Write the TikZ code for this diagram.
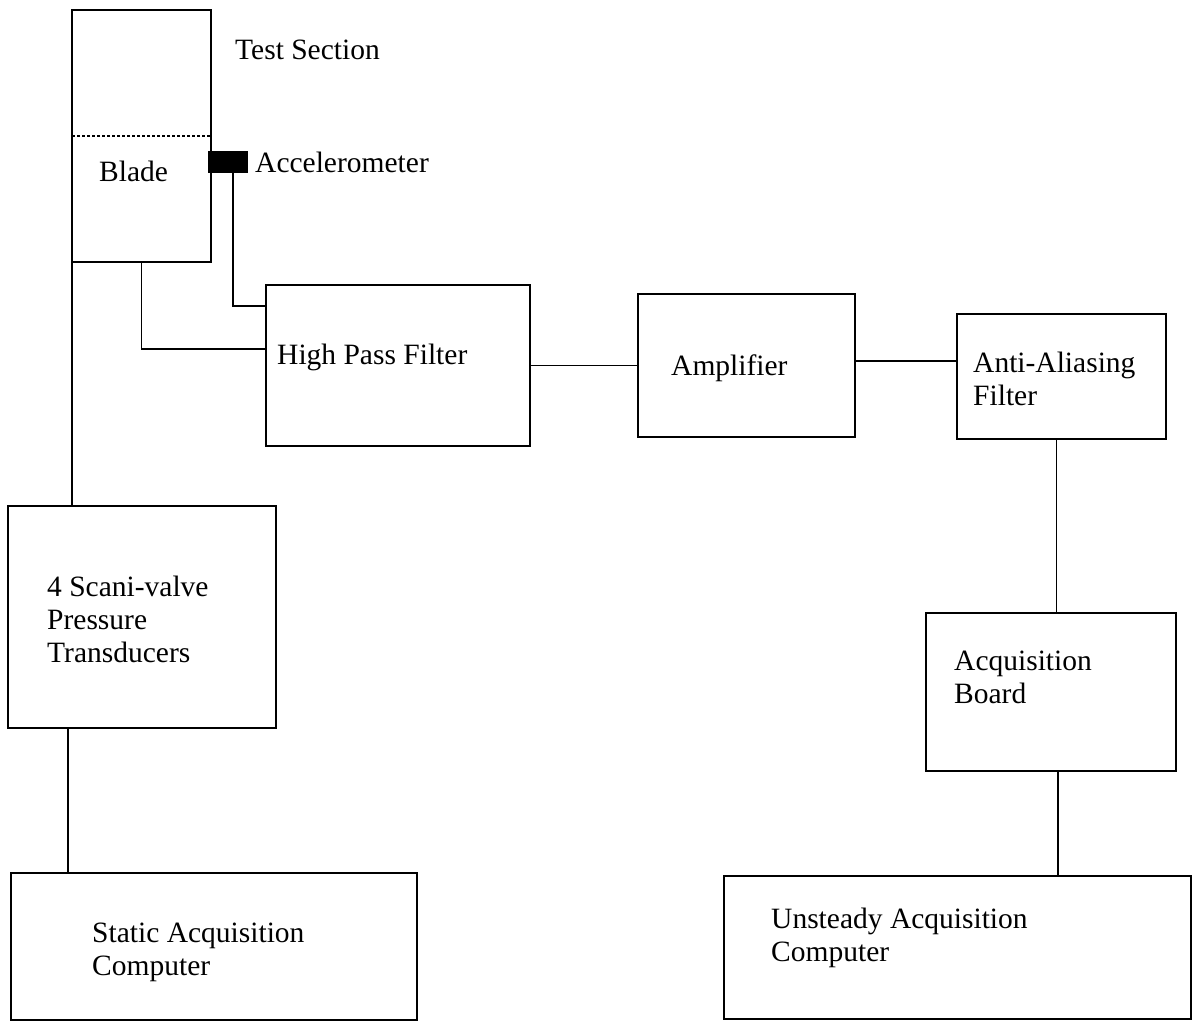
\documentclass[tikz,border=0pt]{standalone}
\usepackage{fontspec}
\setmainfont{Liberation Serif}
\usetikzlibrary{calc}

\tikzset{
  box/.style={draw, line width=1.8pt, inner sep=0pt, outer sep=0pt},
  wire/.style={line width=1.3pt},
  txt/.style={anchor=base west, inner sep=0pt, align=left,
    font=\fontsize{29.5}{33}\selectfont},
}

\begin{document}
\begin{tikzpicture}[x=1pt,y=-1pt]
  \useasboundingbox (0,0) rectangle (1195,1021);
  % boxes
  \node[box, minimum width=139, minimum height=252] (ts) at (141.5,136) {};
  \node[box, fill=black, minimum width=38, minimum height=20] (acc) at (228,162) {};
  \node[box, minimum width=264, minimum height=161] (hpf) at (398,365.5) {};
  \node[box, minimum width=217, minimum height=143] (amp) at (746.5,365.5) {};
  \node[box, minimum width=209, minimum height=125] (aa) at (1061.5,376.5) {};
  \node[box, minimum width=250, minimum height=158] (board) at (1051,692) {};
  \node[box, minimum width=467, minimum height=143] (ucomp) at (957.5,947.5) {};
  \node[box, minimum width=268, minimum height=222] (scani) at (142,617) {};
  \node[box, minimum width=406, minimum height=147] (scomp) at (214,946.5) {};
  % texts (base = last line)
  \node[txt] (tstxt) at (235,59) {Test Section};
  \node[txt] (bladetxt) at (99,181) {Blade};
  \node[txt] (acctxt) at (255,172) {Accelerometer};
  \node[txt] (hpftxt) at (277,364) {High Pass Filter};
  \node[txt] (amptxt) at (671,375) {Amplifier};
  \node[txt] (aatxt) at (973,405) {Anti-Aliasing\\Filter};
  \node[txt] (boardtxt) at (954,703) {Acquisition\\Board};
  \node[txt] (ucomptxt) at (771,961) {Unsteady Acquisition\\Computer};
  \node[txt] (scanitxt) at (47,662) {4 Scani-valve\\Pressure\\Transducers};
  \node[txt] (scomptxt) at (92,975) {Static Acquisition\\Computer};
  % connections
  \draw[densely dashed, line width=1.2pt] (ts.west) -- (ts.east);
  \draw[wire] (ts.south west) -- (ts.south west |- scani.north);
  \draw[wire] (ts.south) |- ([yshift=16.5]hpf.west);
  \draw[wire] ([xshift=5]acc.south) |- ([yshift=59.5]hpf.west);
  \draw[wire] (hpf.east) -- (amp.west);
  \draw[wire] ([yshift=4.5]amp.east) -- ([yshift=4.5]amp.east -| aa.west);
  \draw[wire] ([xshift=-5]aa.south) -- ([xshift=-5]aa.south |- board.north);
  \draw[wire] ([xshift=7]board.south) -- ([xshift=7]board.south |- ucomp.north);
  \draw[wire] ([xshift=60]scani.south west) -- ([xshift=60]scani.south west |- scomp.north);
\end{tikzpicture}
\end{document}
